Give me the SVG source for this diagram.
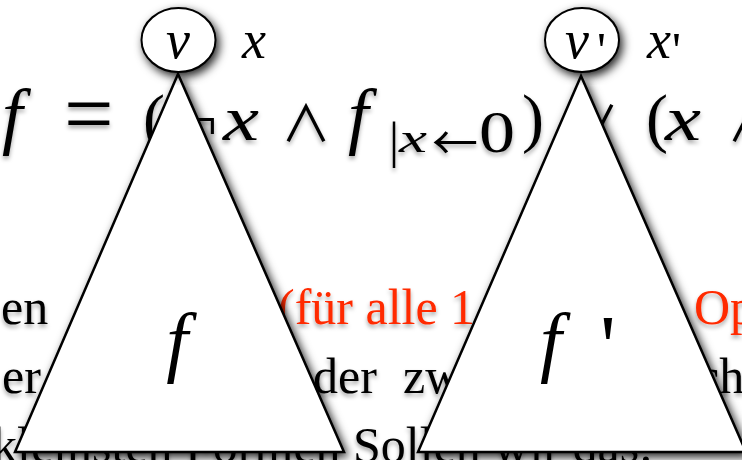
<svg xmlns="http://www.w3.org/2000/svg" width="742" height="460" viewBox="0 0 742 460">
<defs>
<filter id="sh" x="-20%" y="-20%" width="140%" height="140%">
<feDropShadow dx="3" dy="4" stdDeviation="5" flood-color="#000" flood-opacity="0.85"/>
</filter>
<filter id="tsh" x="-10%" y="-30%" width="120%" height="160%">
<feDropShadow dx="0" dy="3" stdDeviation="2" flood-color="#000" flood-opacity="0.35"/>
</filter>
</defs>
<style>
.bg{font-family:"Liberation Serif","Times New Roman",serif;font-size:50px;fill:#000}
.red{fill:#ff2a00}
.m{font-family:"Liberation Serif","Times New Roman",serif;fill:#000}
.op{font-family:"Noto Sans CJK SC",sans-serif;fill:#000}
.i{font-style:italic}
.tri{fill:#fff;stroke:#000;stroke-width:2.5;stroke-linejoin:miter}
.node{fill:#fff;stroke:#000;stroke-width:2}
.lab{font-family:"Liberation Serif","Times New Roman",serif;font-style:italic;fill:#000}
.pr{font-family:"Liberation Serif","Times New Roman",serif;fill:#000}
</style>
<rect width="742" height="460" fill="#fff"/>
<g id="background" filter="url(#tsh)">
<g id="formula">
<text class="m i" x="2" y="140" font-size="74">f</text>
<text class="m" x="64" y="143" font-size="88">=</text>
<text class="m" x="143" y="140" font-size="66">(</text>
<text class="m" x="182" y="140" font-size="62">¬</text>
<text class="m i" x="223" y="140" font-size="64" textLength="36" lengthAdjust="spacingAndGlyphs">x</text>
<text class="op" x="306" y="142" font-size="50" text-anchor="middle">∧</text>
<text class="m i" x="348" y="140" font-size="74">f</text>
<text class="m" x="389" y="157" font-size="50">|</text>
<text class="m i" x="399" y="152" font-size="42" textLength="28" lengthAdjust="spacingAndGlyphs">x</text>
<text class="op" x="455" y="159" font-size="46" text-anchor="middle">←</text>
<text class="m" x="479" y="152" font-size="60" textLength="36" lengthAdjust="spacingAndGlyphs">0</text>
<text class="m" x="522" y="140" font-size="66">)</text>
<text class="op" x="594" y="142" font-size="50" text-anchor="middle">∨</text>
<text class="m" x="646" y="140" font-size="66">(</text>
<text class="m i" x="665" y="140" font-size="64" textLength="36" lengthAdjust="spacingAndGlyphs">x</text>
<text class="op" x="752" y="142" font-size="50" text-anchor="middle">∧</text>
</g>
<g id="body-text">
<text class="bg" x="1" y="324">en</text>
<text class="bg red" x="278" y="324">(für alle 1</text>
<text class="bg red" x="694" y="324">Op</text>
<text class="bg" x="2" y="393">er</text>
<text class="bg" x="313" y="393">der <tspan x="403">zw</tspan></text>
<text class="bg" x="697" y="393">ch</text>
<text class="bg" x="-8" y="462">kleinsten Formen</text>
<text class="bg" x="353" y="462">Sollen wir das:</text>
</g>
</g>
<g id="connectors"/>
<g id="tree-f">
<polygon class="tri" filter="url(#sh)" points="178,74 15,452 344,452"/>
<text class="lab" x="177" y="367" font-size="78" text-anchor="middle">f</text>
</g>
<g id="tree-f2">
<polygon class="tri" filter="url(#sh)" points="581,76 418,452 746,452"/>
<text class="lab" x="540" y="367" font-size="78">f</text>
<text class="pr" x="600" y="376" font-size="88">'</text>
</g>
<g id="node-v">
<ellipse class="node" filter="url(#sh)" cx="178.5" cy="40" rx="37" ry="32"/>
<text class="lab" x="178" y="58" font-size="54" text-anchor="middle">v</text>
<text class="lab" x="242" y="58" font-size="54">x</text>
</g>
<g id="node-v2">
<ellipse class="node" filter="url(#sh)" cx="582" cy="40" rx="37" ry="32"/>
<text class="lab" x="565" y="58" font-size="54">v</text>
<text class="pr" x="597" y="67" font-size="50">'</text>
<text class="lab" x="647" y="58" font-size="54">x</text>
<text class="pr" x="672" y="67" font-size="50">'</text>
</g>
</svg>
